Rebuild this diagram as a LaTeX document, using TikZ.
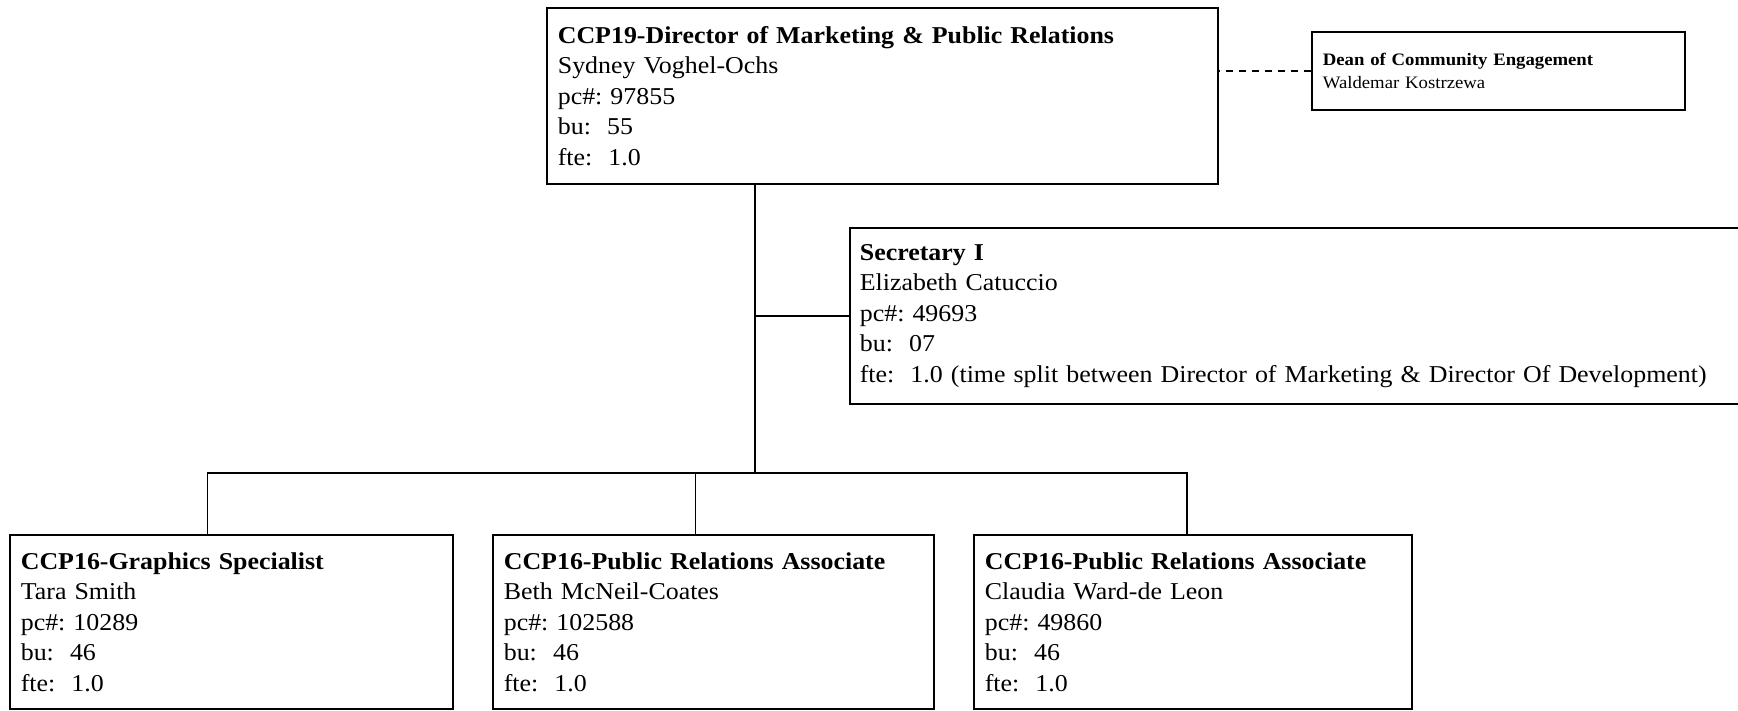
\documentclass[tikz,border=0pt]{standalone}
\usepackage{fontspec}
\setmainfont[FakeStretch=1.07]{Liberation Serif}
\frenchspacing
\begin{document}
\begin{tikzpicture}[x=1pt,y=-1pt,line width=1.7pt,
    post/.style={draw,rectangle,anchor=north west,align=left,inner xsep=11pt,inner ysep=0pt,
      font=\fontsize{24.2}{30.5}\selectfont},
    small/.style={font=\fontsize{17.5}{23}\selectfont}]
                \useasboundingbox (0,0) rectangle (1738,710);
                % top
                \node[post,text width=649pt,minimum height=176pt] (dir) at (546,7)
                  {\textbf{CCP19-Director of Marketing \& Public Relations}\\Sydney Voghel-Ochs\\pc\#: 97855\\bu:~ 55\\fte:~ 1.0};
                \node[post,small,text width=351pt,minimum height=78pt] (dean) at (1311,31)
                  {\textbf{Dean of Community Engagement}\\Waldemar Kostrzewa};
                \node[post,text width=880pt,minimum height=176pt,inner xsep=10pt] (sec) at (849,227)
                  {\textbf{Secretary I}\\Elizabeth Catuccio\\pc\#: 49693\\bu:~ 07\\fte:~ 1.0 (time split between Director of Marketing \& Director Of Development)};
                % bottom row
                \node[post,text width=421pt,minimum height=174pt] (gfx) at (9,534)
                  {\textbf{CCP16-Graphics Specialist}\\Tara Smith\\pc\#: 10289\\bu:~ 46\\fte:~ 1.0};
                \node[post,text width=419pt,minimum height=174pt] (pra) at (492,534)
                  {\textbf{CCP16-Public Relations Associate}\\Beth McNeil-Coates\\pc\#: 102588\\bu:~ 46\\fte:~ 1.0};
                \node[post,text width=416pt,minimum height=174pt] (prb) at (973,534)
                  {\textbf{CCP16-Public Relations Associate}\\Claudia Ward-de Leon\\pc\#: 49860\\bu:~ 46\\fte:~ 1.0};
                % lines
                \coordinate (split) at (755,473);
                \draw (dir.south -| split)--(split);
                \draw (sec.west)--(sec.west -| split);
                \draw [dash pattern=on 7pt off 6pt,line width=1.3pt] (dean.west)--(dean.west -| dir.east);
                \draw ([xshift=-24pt]gfx.north)|-(split);
                \draw ([xshift=-18pt]pra.north)--([xshift=-18pt]pra.north |- split);
                \draw ([xshift=-6pt]prb.north)|-(split);
\end{tikzpicture}
\end{document}
